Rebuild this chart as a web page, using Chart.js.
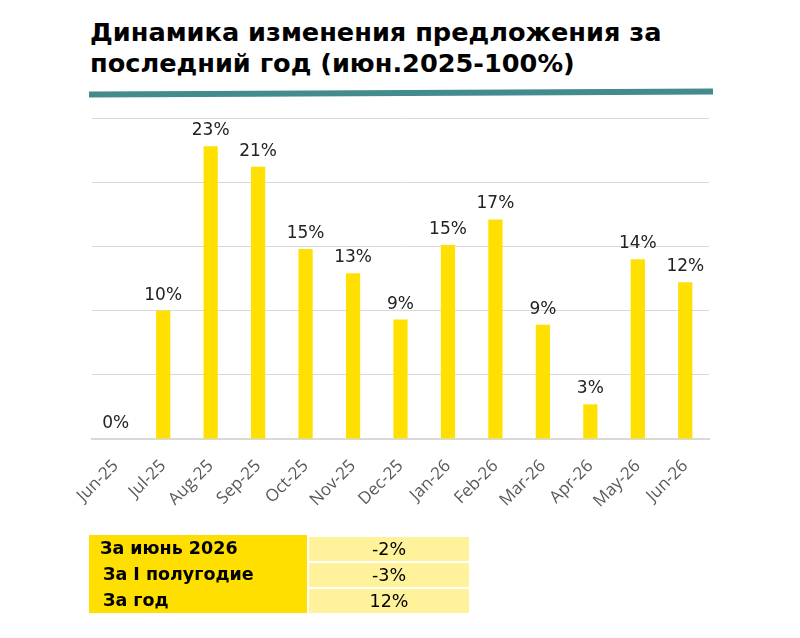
<!DOCTYPE html>
<html>
<head>
<meta charset="utf-8">
<script src="https://cdn.jsdelivr.net/npm/chart.js@4.4.1/dist/chart.umd.min.js"></script>
<style>
  html, body { margin: 0; padding: 0; background: #fff; }
  body { width: 800px; height: 638px; position: relative; overflow: hidden; font-family: "DejaVu Sans", sans-serif; }
  #title { position: absolute; left: 90px; top: 17px; font-size: 25.6px; font-weight: bold; line-height: 31px; color: #000; }
  #rule { position: absolute; left: 89px; top: 90px; width: 624px; height: 6px; background: #438b8d; transform: rotate(-0.28deg); }
  #chart-wrap { position: absolute; left: 0; top: 0; width: 800px; height: 638px; }
  #summary { position: absolute; left: 89px; top: 535px; border-collapse: separate; border-spacing: 0; }
  #summary td { height: 24px; padding: 0; font-size: 17.5px; line-height: 24px; }
  #summary td.name { background: #ffdf00; font-weight: bold; width: 218px; padding-left: 11px; box-sizing: border-box; }
  #summary td.val { background: #fff29a; width: 160px; text-align: center; border-left: 2px solid #fff; border-top: 2px solid #fff; }
</style>
</head>
<body>
<div id="title">Динамика изменения предложения за<br>последний год (июн.2025-100%)</div>
<div id="rule"></div>
<div id="chart-wrap"><canvas id="supply-chart"></canvas></div>
<table id="summary"></table>
<script>
// monthly change of supply vs June 2025
const months = ["Jun-25", "Jul-25", "Aug-25", "Sep-25", "Oct-25", "Nov-25", "Dec-25",
  "Jan-26", "Feb-26", "Mar-26", "Apr-26", "May-26", "Jun-26"];
const changeValues = [0, 10, 22.8, 21.2, 14.8, 12.9, 9.3, 15.1, 17.1, 8.9, 2.7, 14.0, 12.2];
const changeLabels = ["0%", "10%", "23%", "21%", "15%", "13%", "9%", "15%", "17%", "9%", "3%", "14%", "12%"];

// summary table rows
const summaryNames = ["За июнь 2026", "За I полугодие", "За год"];
const summaryValues = ["-2%", "-3%", "12%"];

const table = document.getElementById("summary");
summaryNames.forEach((name, i) => {
  const tr = document.createElement("tr");
  const a = document.createElement("td");
  a.className = "name";
  a.textContent = name;
  if (i > 0) a.style.paddingLeft = "14px";
  const b = document.createElement("td");
  b.className = "val";
  b.textContent = summaryValues[i];
  tr.appendChild(a);
  tr.appendChild(b);
  table.appendChild(tr);
});

// value labels above bars
const barLabels = {
  id: "barLabels",
  afterDatasetsDraw(chart) {
    const ctx = chart.ctx;
    const meta = chart.getDatasetMeta(0);
    ctx.save();
    ctx.font = "17px 'DejaVu Sans'";
    ctx.fillStyle = "#222";
    ctx.textAlign = "center";
    ctx.textBaseline = "bottom";
    meta.data.forEach((bar, i) => {
      ctx.fillText(changeLabels[i], bar.x, bar.y - 7);
    });
    ctx.restore();
  },
};

const ctx = document.getElementById("supply-chart").getContext("2d");
new Chart(ctx, {
  type: "bar",
  data: {
    labels: months,
    datasets: [
      {
        data: changeValues,
        backgroundColor: "#ffe000",
        categoryPercentage: 1,
        barPercentage: 0.3,
      },
    ],
  },
  options: {
    responsive: true,
    maintainAspectRatio: false,
    animation: false,
    layout: { padding: { left: 92, right: 91, top: 118, bottom: 0 } },
    plugins: { legend: { display: false }, tooltip: { enabled: false } },
    scales: {
      x: {
        grid: { display: false },
        border: { color: "#d9d9d9", width: 2 },
        ticks: {
          color: "#595959",
          font: { family: "Open Sans", size: 17 },
          minRotation: 45,
          maxRotation: 45,
          padding: 9,
        },
        afterFit: (scale) => { scale.height = 638 - 439; },
      },
      y: {
        min: 0,
        max: 25,
        ticks: { display: false, stepSize: 5 },
        grid: { color: "#d9d9d9", lineWidth: 1, drawTicks: false },
        border: { display: false },
        afterFit: (scale) => { scale.width = 0; },
      },
    },
  },
  plugins: [barLabels],
});
</script>
</body>
</html>
